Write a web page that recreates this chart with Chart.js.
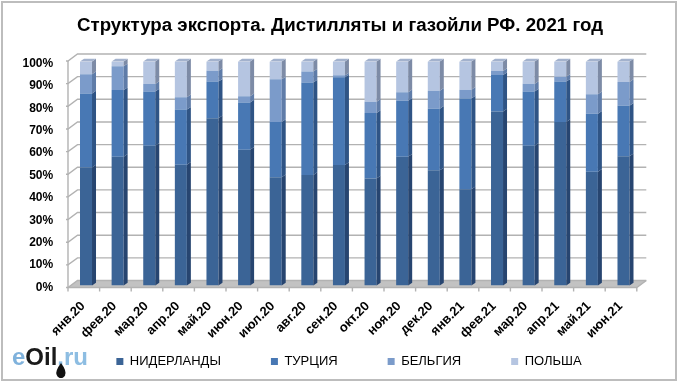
<!DOCTYPE html>
<html>
<head>
<meta charset="utf-8">
<style>
  html, body { margin: 0; padding: 0; background: #fff; }
  canvas { display: block; }
</style>
<script src="https://cdn.jsdelivr.net/npm/chart.js@4"></script>
</head>
<body>
<canvas id="grafico" width="680" height="384"></canvas>
<script>
var meses = ['янв.20', 'фев.20', 'мар.20', 'апр.20', 'май.20', 'июн.20', 'июл.20', 'авг.20', 'сен.20',
    'окт.20', 'ноя.20', 'дек.20', 'янв.21', 'фев.21', 'мар.20', 'апр.21', 'май.21', 'июн.21']
var niderlandy = [52.7, 57.5, 62.4, 53.9, 74.7, 60.6, 48.3, 49.3, 53.8, 47.8, 57.5, 51.4, 43, 77.7, 62.4, 73, 50.8, 57.7]
var turcia = [33, 29.7, 24.2, 24.6, 16.3, 21.1, 24.7, 41.3, 39.1, 29.2, 25, 27.5, 40.5, 16.2, 24.2, 18, 25.9, 22.5]
var belgia = [8.6, 10.7, 3.3, 5.5, 4.8, 2.8, 19, 4.9, 0.9, 5, 3.8, 8, 3.9, 1.8, 3.4, 2.2, 8.7, 10.6]
var polsha = [5.7, 2.1, 10.1, 16, 4.2, 15.5, 8, 4.5, 6.2, 18, 13.7, 13.1, 12.6, 4.3, 10, 6.8, 14.6, 9.2]

var corSombra = ['#274570', '#2f5485', '#5f7ca8', '#7d8ba6']
var fonte = "'Liberation Sans', Arial, sans-serif"

// fundo, moldura, parede do fundo e piso em falsa perspectiva
var paredes = {
    id: 'paredes',
    afterLayout: function (chart) {
        // legenda um pouco a direita do centro, como no original
        chart.legend.left += 9
        chart.legend.right += 9
        // sem isso o chart.js corta os rotulos na caixa da escala
        chart.scales.x.bottom = chart.scales.x.top + 60
    },
    beforeDraw: function (chart) {
        var ctx = chart.ctx
        ctx.save()
        ctx.fillStyle = '#fff'
        ctx.fillRect(0, 0, chart.width, chart.height)
        ctx.strokeStyle = '#bdbdbd'
        ctx.lineWidth = 2
        ctx.strokeRect(2, 2, 674, 378)
        ctx.restore()
    },
    beforeDatasetsDraw: function (chart) {
        var ctx = chart.ctx
        var y = chart.scales.y
        var x = chart.scales.x
        var frenteX = x.left - 2.2
        var fimX = x.right - 2.5
        var dx = 9.5
        var dy = 7
        var frenteY = function (v) { return y.bottom + 2 - v / 100 * 226.5 }

        ctx.save()
        ctx.lineWidth = 1.4
        ctx.strokeStyle = '#b2b2b2'

        ctx.fillStyle = '#c2c2c2'
        ctx.beginPath()
        ctx.moveTo(frenteX, frenteY(0))
        ctx.lineTo(frenteX + dx, frenteY(0) - dy)
        ctx.lineTo(fimX + dx, frenteY(0) - dy)
        ctx.lineTo(fimX, frenteY(0))
        ctx.closePath()
        ctx.fill()

        for (var v = 0; v <= 100; v += 10) {
            ctx.beginPath()
            ctx.moveTo(frenteX - 2, frenteY(v))
            ctx.lineTo(frenteX, frenteY(v))
            ctx.lineTo(frenteX + dx, frenteY(v) - dy)
            ctx.lineTo(fimX + dx, frenteY(v) - dy)
            ctx.stroke()
        }

        ctx.beginPath()
        ctx.moveTo(frenteX, frenteY(100))
        ctx.lineTo(frenteX, frenteY(0))
        ctx.lineTo(fimX, frenteY(0))
        ctx.lineTo(fimX + dx, frenteY(0) - dy)
        ctx.stroke()

        for (var i = 0; i <= meses.length; i++) {
            var px = frenteX + i * (fimX - frenteX) / meses.length
            ctx.beginPath()
            ctx.moveTo(px, frenteY(0))
            ctx.lineTo(px, frenteY(0) + 4)
            ctx.stroke()
        }
        ctx.restore()
    },
    afterDatasetsDraw: function (chart) {
        var ctx = chart.ctx
        var lado = 4
        var alto = 2.7
        ctx.save()
        chart.data.datasets.forEach(function (ds, d) {
            chart.getDatasetMeta(d).data.forEach(function (bar) {
                var dir = bar.x + bar.width / 2
                var esq = bar.x - bar.width / 2
                ctx.fillStyle = corSombra[d]
                ctx.beginPath()
                ctx.moveTo(dir, bar.base)
                ctx.lineTo(dir + lado, bar.base - alto)
                ctx.lineTo(dir + lado, bar.y - alto)
                ctx.lineTo(dir, bar.y)
                ctx.closePath()
                ctx.fill()

                if (d == chart.data.datasets.length - 1) {
                    ctx.fillStyle = '#a3b2cd'
                    ctx.beginPath()
                    ctx.moveTo(esq, bar.y)
                    ctx.lineTo(esq + lado, bar.y - alto)
                    ctx.lineTo(dir + lado, bar.y - alto)
                    ctx.lineTo(dir, bar.y)
                    ctx.closePath()
                    ctx.fill()
                }
            })
        })
        ctx.restore()
    },
    afterDraw: function (chart) {
        // logotipo eOil.ru
        var ctx = chart.ctx
        var px = 12
        var base = 365
        ctx.save()
        ctx.font = 'bold 24px ' + fonte
        ctx.textBaseline = 'alphabetic'
        ;[['e', '#7fb2dc'], ['Oil', '#1a1a1a'], ['.ru', '#8dbde2']].forEach(function (p) {
            ctx.fillStyle = p[1]
            ctx.fillText(p[0], px, base)
            px += ctx.measureText(p[0]).width
        })
        ctx.fillStyle = '#111'
        ctx.beginPath()
        ctx.moveTo(61, 363)
        ctx.quadraticCurveTo(67, 371, 65, 375)
        ctx.arc(61, 373.5, 4.6, 0.3, Math.PI - 0.3)
        ctx.quadraticCurveTo(55, 371, 61, 363)
        ctx.fill()
        ctx.restore()
    }
}

function plotarGrafico() {
    const config = {
        type: 'bar',
        data: {
            labels: meses,
            datasets: [
                { label: 'НИДЕРЛАНДЫ', data: niderlandy, backgroundColor: '#3b6496' },
                { label: 'ТУРЦИЯ', data: turcia, backgroundColor: '#4878b4' },
                { label: 'БЕЛЬГИЯ', data: belgia, backgroundColor: '#7b9bca' },
                { label: 'ПОЛЬША', data: polsha, backgroundColor: '#b5c5e1' }
            ]
        },
        options: {
            responsive: false,
            animation: false,
            barPercentage: 0.38,
            categoryPercentage: 1,
            layout: { padding: { left: 0, right: 0, top: 0, bottom: 6 } },
            plugins: {
                tooltip: { enabled: false },
                title: {
                    display: true,
                    text: 'Структура экспорта. Дистилляты и газойли РФ. 2021 год',
                    color: '#000',
                    font: { family: fonte, size: 18.7, weight: 'bold' },
                    padding: { top: 15, bottom: 24 }
                },
                legend: {
                    position: 'bottom',
                    labels: {
                        boxWidth: 7,
                        boxHeight: 7,
                        padding: 50,
                        color: '#000',
                        font: { family: fonte, size: 13 }
                    }
                }
            },
            scales: {
                x: {
                    stacked: true,
                    grid: { display: false },
                    border: { display: false },
                    // os rotulos invadem o espaco vazio acima da legenda
                    afterFit: function (scale) { scale.height = 19.5 },
                    ticks: {
                        autoSkip: false,
                        minRotation: 45,
                        maxRotation: 45,
                        color: '#000',
                        padding: 5,
                        labelOffset: -3,
                        font: { family: fonte, size: 13, weight: 'bold' }
                    }
                },
                y: {
                    stacked: true,
                    min: 0,
                    max: 100,
                    grid: { display: false },
                    border: { display: false },
                    afterFit: function (scale) { scale.width = 70.2 },
                    ticks: {
                        stepSize: 10,
                        color: '#000',
                        padding: 9,
                        labelOffset: 2,
                        font: { family: fonte, size: 12, weight: 'bold' },
                        callback: function (valor) { return valor + '%' }
                    }
                },
                margem: {
                    position: 'right',
                    grid: { display: false },
                    border: { display: false },
                    ticks: { display: false },
                    afterFit: function (scale) { scale.width = 40.7 }
                }
            }
        },
        plugins: [paredes]
    }

    new Chart(document.getElementById('grafico'), config)
}

plotarGrafico()
</script>
</body>
</html>
